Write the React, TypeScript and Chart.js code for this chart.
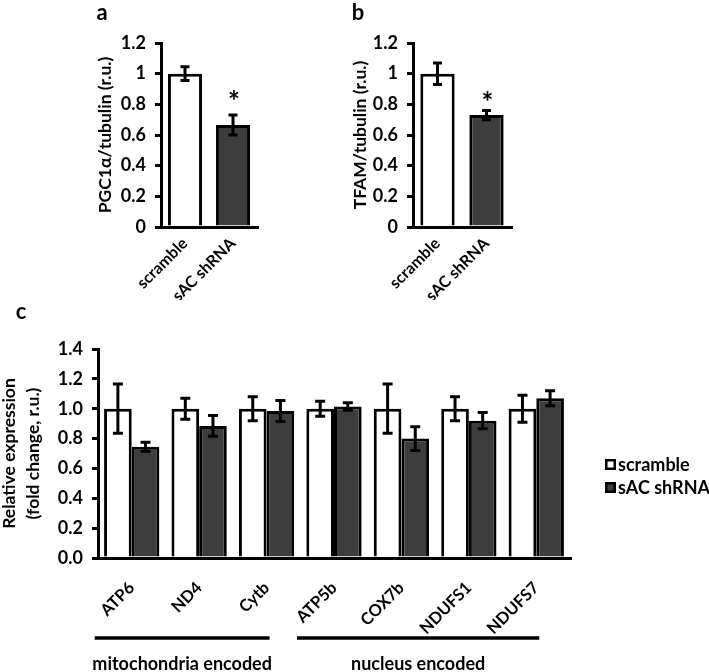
import React, { useEffect, useRef } from 'react';
import { Chart, registerables } from 'chart.js';

Chart.register(...registerables);

const FONT = 'Lato, "Open Sans", Arial, sans-serif';
const BLACK = '#000000';
const WHITE = '#ffffff';
const DARK = '#3d3d3d';

// ---- Panels a & b ----
const conditions = ['scramble', 'sAC shRNA'];
const pgcMeans = [1.0, 0.665];
const pgcErrors = [0.045, 0.065];
const tfamMeans = [1.0, 0.73];
const tfamErrors = [0.07, 0.03];
const abMax = 1.2;
const abStep = 0.2;

// ---- Panel c ----
const genes = ['ATP6', 'ND4', 'Cytb', 'ATP5b', 'COX7b', 'NDUFS1', 'NDUFS7'];
const seriesNames = ['scramble', 'sAC shRNA'];
const scrambleMeans = [1.0, 1.0, 1.0, 1.0, 1.0, 1.0, 1.0];
const scrambleErrors = [0.165, 0.07, 0.08, 0.05, 0.165, 0.08, 0.09];
const shrnaMeans = [0.745, 0.885, 0.985, 1.015, 0.8, 0.92, 1.07];
const shrnaErrors = [0.03, 0.07, 0.07, 0.025, 0.08, 0.055, 0.05];
const cMax = 1.4;
const cStep = 0.2;
const groupLabels = ['mitochondria encoded', 'nucleus encoded'];
const groupStarts = [0, 3];
const groupEnds = [2, 6];

const bold = (size: number) => ({ family: FONT, size, weight: 'bold' as const });

function errorBarPlugin(errors: number[][], cap: number) {
  return {
    id: 'errorBars',
    afterDatasetsDraw(chart: any) {
      const y = chart.scales.y;
      const ctx = chart.ctx;
      ctx.save();
      ctx.strokeStyle = BLACK;
      ctx.lineWidth = 3;
      chart.data.datasets.forEach((ds: any, i: number) => {
        const meta = chart.getDatasetMeta(i);
        meta.data.forEach((el: any, j: number) => {
          const v = ds.data[j];
          const e = errors[i][j];
          const x = el.x;
          const yt = y.getPixelForValue(v + e);
          const yb = y.getPixelForValue(v - e);
          ctx.beginPath();
          ctx.moveTo(x, yt);
          ctx.lineTo(x, yb);
          ctx.moveTo(x - cap, yt);
          ctx.lineTo(x + cap, yt);
          ctx.moveTo(x - cap, yb);
          ctx.lineTo(x + cap, yb);
          ctx.stroke();
        });
      });
      ctx.restore();
    },
  };
}

interface Decor {
  letter: string;
  letterX: number;
  letterY: number;
  titleLines: string[];
  titleX: number[];
  starIndex?: number;
  starErrors?: number[];
  starGap?: number;
  legend?: { x: number; ys: number[] };
  groups?: boolean;
}

function decorPlugin(d: Decor) {
  return {
    id: 'decor',
    afterDraw(chart: any) {
      const ctx = chart.ctx;
      const area = chart.chartArea;
      const y = chart.scales.y;
      const x = chart.scales.x;
      ctx.save();
      ctx.fillStyle = BLACK;
      // panel letter
      ctx.font = `bold 22px ${FONT}`;
      ctx.textAlign = 'center';
      ctx.textBaseline = 'middle';
      ctx.fillText(d.letter, d.letterX, d.letterY);
      // y title
      ctx.font = `bold 17.5px ${FONT}`;
      const cy = (area.top + area.bottom) / 2;
      d.titleLines.forEach((t, i) => {
        ctx.save();
        ctx.translate(d.titleX[i], cy);
        ctx.rotate(-Math.PI / 2);
        ctx.textAlign = 'center';
        ctx.textBaseline = 'middle';
        ctx.fillText(t, 0, 0);
        ctx.restore();
      });
      // star
      if (d.starIndex !== undefined && d.starErrors) {
        const ds = chart.data.datasets[0];
        const el = chart.getDatasetMeta(0).data[d.starIndex];
        const top = y.getPixelForValue(ds.data[d.starIndex] + d.starErrors[d.starIndex]);
        ctx.font = `bold 28px ${FONT}`;
        ctx.textAlign = 'center';
        ctx.textBaseline = 'middle';
        ctx.fillText('*', el.x + 1, top - (d.starGap ?? 13));
      }
      // legend
      if (d.legend) {
        chart.data.datasets.forEach((ds: any, i: number) => {
          const ly = d.legend!.ys[i];
          ctx.fillStyle = ds.backgroundColor;
          ctx.fillRect(d.legend!.x, ly - 5.5, 11, 11);
          ctx.strokeStyle = BLACK;
          ctx.lineWidth = 2.5;
          ctx.strokeRect(d.legend!.x + 1.25, ly - 4.25, 8.5, 8.5);
          ctx.fillStyle = BLACK;
          ctx.font = `bold 18px ${FONT}`;
          ctx.textAlign = 'left';
          ctx.textBaseline = 'middle';
          ctx.fillText(ds.label, d.legend!.x + 13, ly + 0.5);
        });
      }
      // group brackets
      if (d.groups) {
        const lineY = area.bottom + 80;
        const textY = area.bottom + 106;
        groupLabels.forEach((lab, g) => {
          const x0 = x.getPixelForTick(groupStarts[g]) - 37;
          const x1 = x.getPixelForTick(groupEnds[g]) + 3;
          ctx.strokeStyle = BLACK;
          ctx.lineWidth = 3.5;
          ctx.beginPath();
          ctx.moveTo(x0, lineY);
          ctx.lineTo(x1, lineY);
          ctx.stroke();
          ctx.fillStyle = BLACK;
          ctx.font = `bold 18px ${FONT}`;
          ctx.textAlign = 'center';
          ctx.textBaseline = 'middle';
          ctx.fillText(lab, (x0 + x1) / 2, textY);
        });
      }
      ctx.restore();
    },
  };
}

function yScale(width: number, max: number, step: number, fmt: (v: number) => string) {
  return {
    min: 0,
    max,
    ticks: { stepSize: step, color: BLACK, font: bold(18), padding: 9, callback: (v: any) => fmt(Number(v)) },
    grid: { display: true, drawOnChartArea: false, drawTicks: true, tickLength: 6, color: BLACK, lineWidth: 3 },
    border: { display: true, color: BLACK, width: 3 },
    afterFit: (s: any) => {
      s.width = width;
    },
  };
}

function xScale(height: number, padding: number, size: number) {
  return {
    ticks: { color: BLACK, font: bold(size), minRotation: 45, maxRotation: 45, autoSkip: false, padding },
    grid: { display: true, drawOnChartArea: false, drawTicks: false, color: BLACK, lineWidth: 3 },
    border: { display: true, color: BLACK, width: 3 },
    afterFit: (s: any) => {
      s.height = height;
    },
  };
}

const fmtAB = (v: number) => String(Math.round(v * 10) / 10);
const fmtC = (v: number) => v.toFixed(1);

export default function App() {
  const aRef = useRef<HTMLCanvasElement>(null);
  const bRef = useRef<HTMLCanvasElement>(null);
  const cRef = useRef<HTMLCanvasElement>(null);

  useEffect(() => {
    const common = {
      responsive: false,
      animation: false as const,
      events: [] as any[],
      plugins: { legend: { display: false }, tooltip: { enabled: false } },
    };

    const chartA = new Chart(aRef.current!, {
      type: 'bar',
      data: {
        labels: conditions,
        datasets: [
          {
            label: 'PGC1α',
            data: pgcMeans,
            backgroundColor: [WHITE, DARK],
            borderColor: BLACK,
            borderWidth: 3,
            barPercentage: 0.71,
            categoryPercentage: 1,
          },
        ],
      },
      options: {
        ...common,
        layout: { padding: { left: 0, top: 43, right: 13, bottom: 0 } },
        scales: { x: xScale(73, 7, 16), y: yScale(161, abMax, abStep, fmtAB) },
      } as any,
      plugins: [
        errorBarPlugin([pgcErrors], 4.5),
        decorPlugin({
          letter: 'a',
          letterX: 102,
          letterY: 13,
          titleLines: ['PGC1α/tubulin (r.u.)'],
          titleX: [105],
          starIndex: 1,
          starErrors: pgcErrors,
          starGap: 13,
        }),
      ],
    });

    const chartB = new Chart(bRef.current!, {
      type: 'bar',
      data: {
        labels: conditions,
        datasets: [
          {
            label: 'TFAM',
            data: tfamMeans,
            backgroundColor: [WHITE, DARK],
            borderColor: BLACK,
            borderWidth: 3,
            barPercentage: 0.7,
            categoryPercentage: 1,
          },
        ],
      },
      options: {
        ...common,
        layout: { padding: { left: 0, top: 43, right: 19, bottom: 0 } },
        scales: { x: xScale(73, 7, 16), y: yScale(143, abMax, abStep, fmtAB) },
      } as any,
      plugins: [
        errorBarPlugin([tfamErrors], 4.5),
        decorPlugin({
          letter: 'b',
          letterX: 88,
          letterY: 13,
          titleLines: ['TFAM/tubulin (r.u.)'],
          titleX: [90],
          starIndex: 1,
          starErrors: tfamErrors,
          starGap: 7,
        }),
      ],
    });

    const chartC = new Chart(cRef.current!, {
      type: 'bar',
      data: {
        labels: genes,
        datasets: [
          {
            label: seriesNames[0],
            data: scrambleMeans,
            backgroundColor: WHITE,
            borderColor: BLACK,
            borderWidth: 3,
            barPercentage: 1,
            categoryPercentage: 0.82,
          },
          {
            label: seriesNames[1],
            data: shrnaMeans,
            backgroundColor: DARK,
            borderColor: BLACK,
            borderWidth: 3,
            barPercentage: 1,
            categoryPercentage: 0.82,
          },
        ],
      },
      options: {
        ...common,
        layout: { padding: { left: 0, top: 59, right: 139, bottom: 0 } },
        scales: { x: xScale(114, 20, 16.5), y: yScale(98, cMax, cStep, fmtC) },
      } as any,
      plugins: [
        errorBarPlugin([scrambleErrors, shrnaErrors], 5),
        decorPlugin({
          letter: 'c',
          letterX: 21,
          letterY: 22,
          titleLines: ['Relative expression', '(fold change, r.u.)'],
          titleX: [9, 33],
          legend: { x: 605, ys: [174.5, 197.5] },
          groups: true,
        }),
      ],
    });

    return () => {
      chartA.destroy();
      chartB.destroy();
      chartC.destroy();
    };
  }, []);

  return (
    <div style={{ position: 'absolute', left: 0, top: 0, width: 709, height: 672, background: '#fff' }}>
      <canvas ref={cRef} width={709} height={382} style={{ position: 'absolute', left: 0, top: 290, width: 709, height: 382 }} />
      <canvas ref={aRef} width={270} height={300} style={{ position: 'absolute', left: 0, top: 0, width: 270, height: 300 }} />
      <canvas ref={bRef} width={260} height={300} style={{ position: 'absolute', left: 270, top: 0, width: 260, height: 300 }} />
    </div>
  );
}
